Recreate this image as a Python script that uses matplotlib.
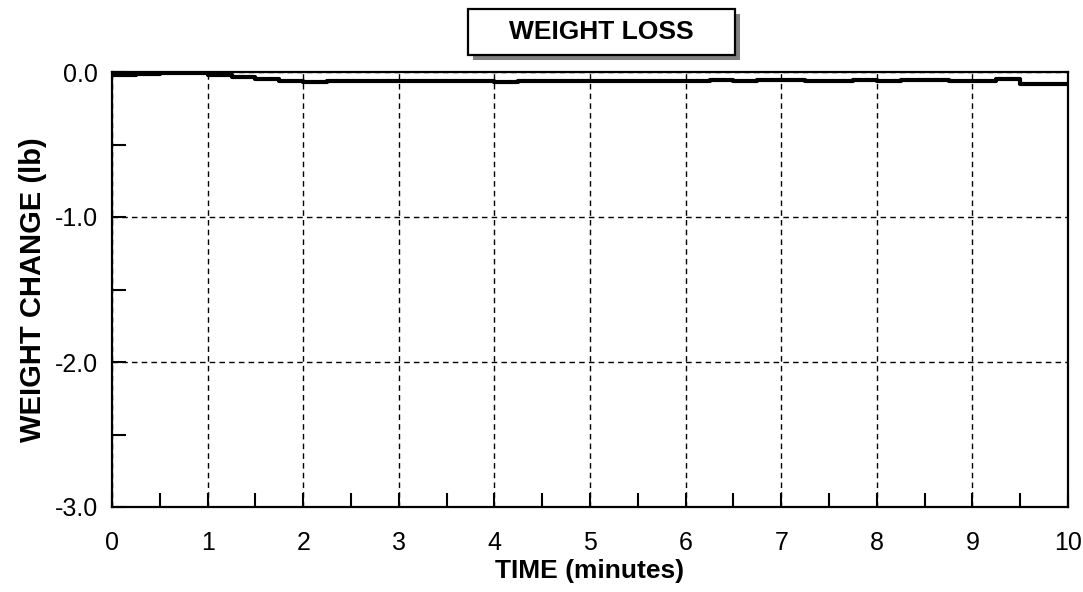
import numpy as np
import matplotlib.pyplot as plt
from matplotlib.patches import Rectangle

plt.rcParams['font.family'] = ['Liberation Sans', 'DejaVu Sans']

# dados
tempo = [0, 0.25, 0.5, 0.75, 1.0, 1.25, 1.5, 1.75, 2.0, 2.25, 2.5, 2.75, 3.0, 3.25, 3.5,
         3.75, 4.0, 4.25, 4.5, 4.75, 5.0, 5.25, 5.5, 5.75, 6.0, 6.25, 6.5, 6.75, 7.0,
         7.25, 7.5, 7.75, 8.0, 8.25, 8.5, 8.75, 9.0, 9.25, 9.5, 9.75, 10.0]
peso = [-0.02, -0.015, -0.005, -0.005, -0.02, -0.035, -0.05, -0.06, -0.07, -0.065,
        -0.06, -0.065, -0.06, -0.065, -0.06, -0.065, -0.07, -0.065, -0.06, -0.065,
        -0.065, -0.06, -0.06, -0.06, -0.06, -0.055, -0.06, -0.055, -0.055, -0.06,
        -0.06, -0.055, -0.06, -0.055, -0.055, -0.06, -0.065, -0.05, -0.085, -0.085, -0.085]
x_ticks = [0, 1, 2, 3, 4, 5, 6, 7, 8, 9, 10]
y_ticks = [-3.0, -2.0, -1.0, 0.0]
titulo = 'WEIGHT LOSS'

W, H = 1083, 592
fig = plt.figure(figsize=(W / 100, H / 100), dpi=100)
ax = fig.add_axes([112 / W, 1 - 507 / H, (1068 - 112) / W, (507 - 72) / H])

ax.plot(tempo, peso, color='black', lw=3, drawstyle='steps-post')

ax.set_xlim(0, 10)
ax.set_ylim(-3, 0)
ax.set_xticks(x_ticks)
ax.set_xticks(np.arange(0.5, 10, 1), minor=True)
ax.set_yticks(y_ticks)
ax.set_yticks([-2.5, -1.5, -0.5], minor=True)
ax.set_xticklabels([str(v) for v in x_ticks])
ax.set_yticklabels([f'{v:.1f}' for v in y_ticks])
ax.tick_params(which='both', direction='in', length=10, width=1.5, labelsize=18)
ax.tick_params(axis='x', pad=17)
ax.tick_params(axis='y', pad=10)
ax.grid(True, which='major', color='black', linestyle=(0, (4, 3)), lw=1)
for s in ax.spines.values():
    s.set_linewidth(1.6)

ax.set_xlabel('TIME (minutes)', fontsize=19, fontweight='bold', labelpad=3)
ax.set_ylabel('WEIGHT CHANGE (lb)', fontsize=21, fontweight='bold', labelpad=6)

# caixa do titulo com sombra
x0, x1, y0, y1 = 468, 735, 9, 55
fig.patches.append(Rectangle((x0 / W + 5 / W, 1 - (y1 + 5) / H), (x1 - x0) / W, (y1 - y0) / H,
                             transform=fig.transFigure, facecolor='#808080', edgecolor='none'))
fig.patches.append(Rectangle((x0 / W, 1 - y1 / H), (x1 - x0) / W, (y1 - y0) / H,
                             transform=fig.transFigure, facecolor='white', edgecolor='black', lw=1.6))
fig.text((x0 + x1) / 2 / W, 1 - (y0 + y1) / 2 / H, titulo, ha='center', va='center',
         fontsize=19, fontweight='bold')

fig.savefig('out.png', dpi=100)
